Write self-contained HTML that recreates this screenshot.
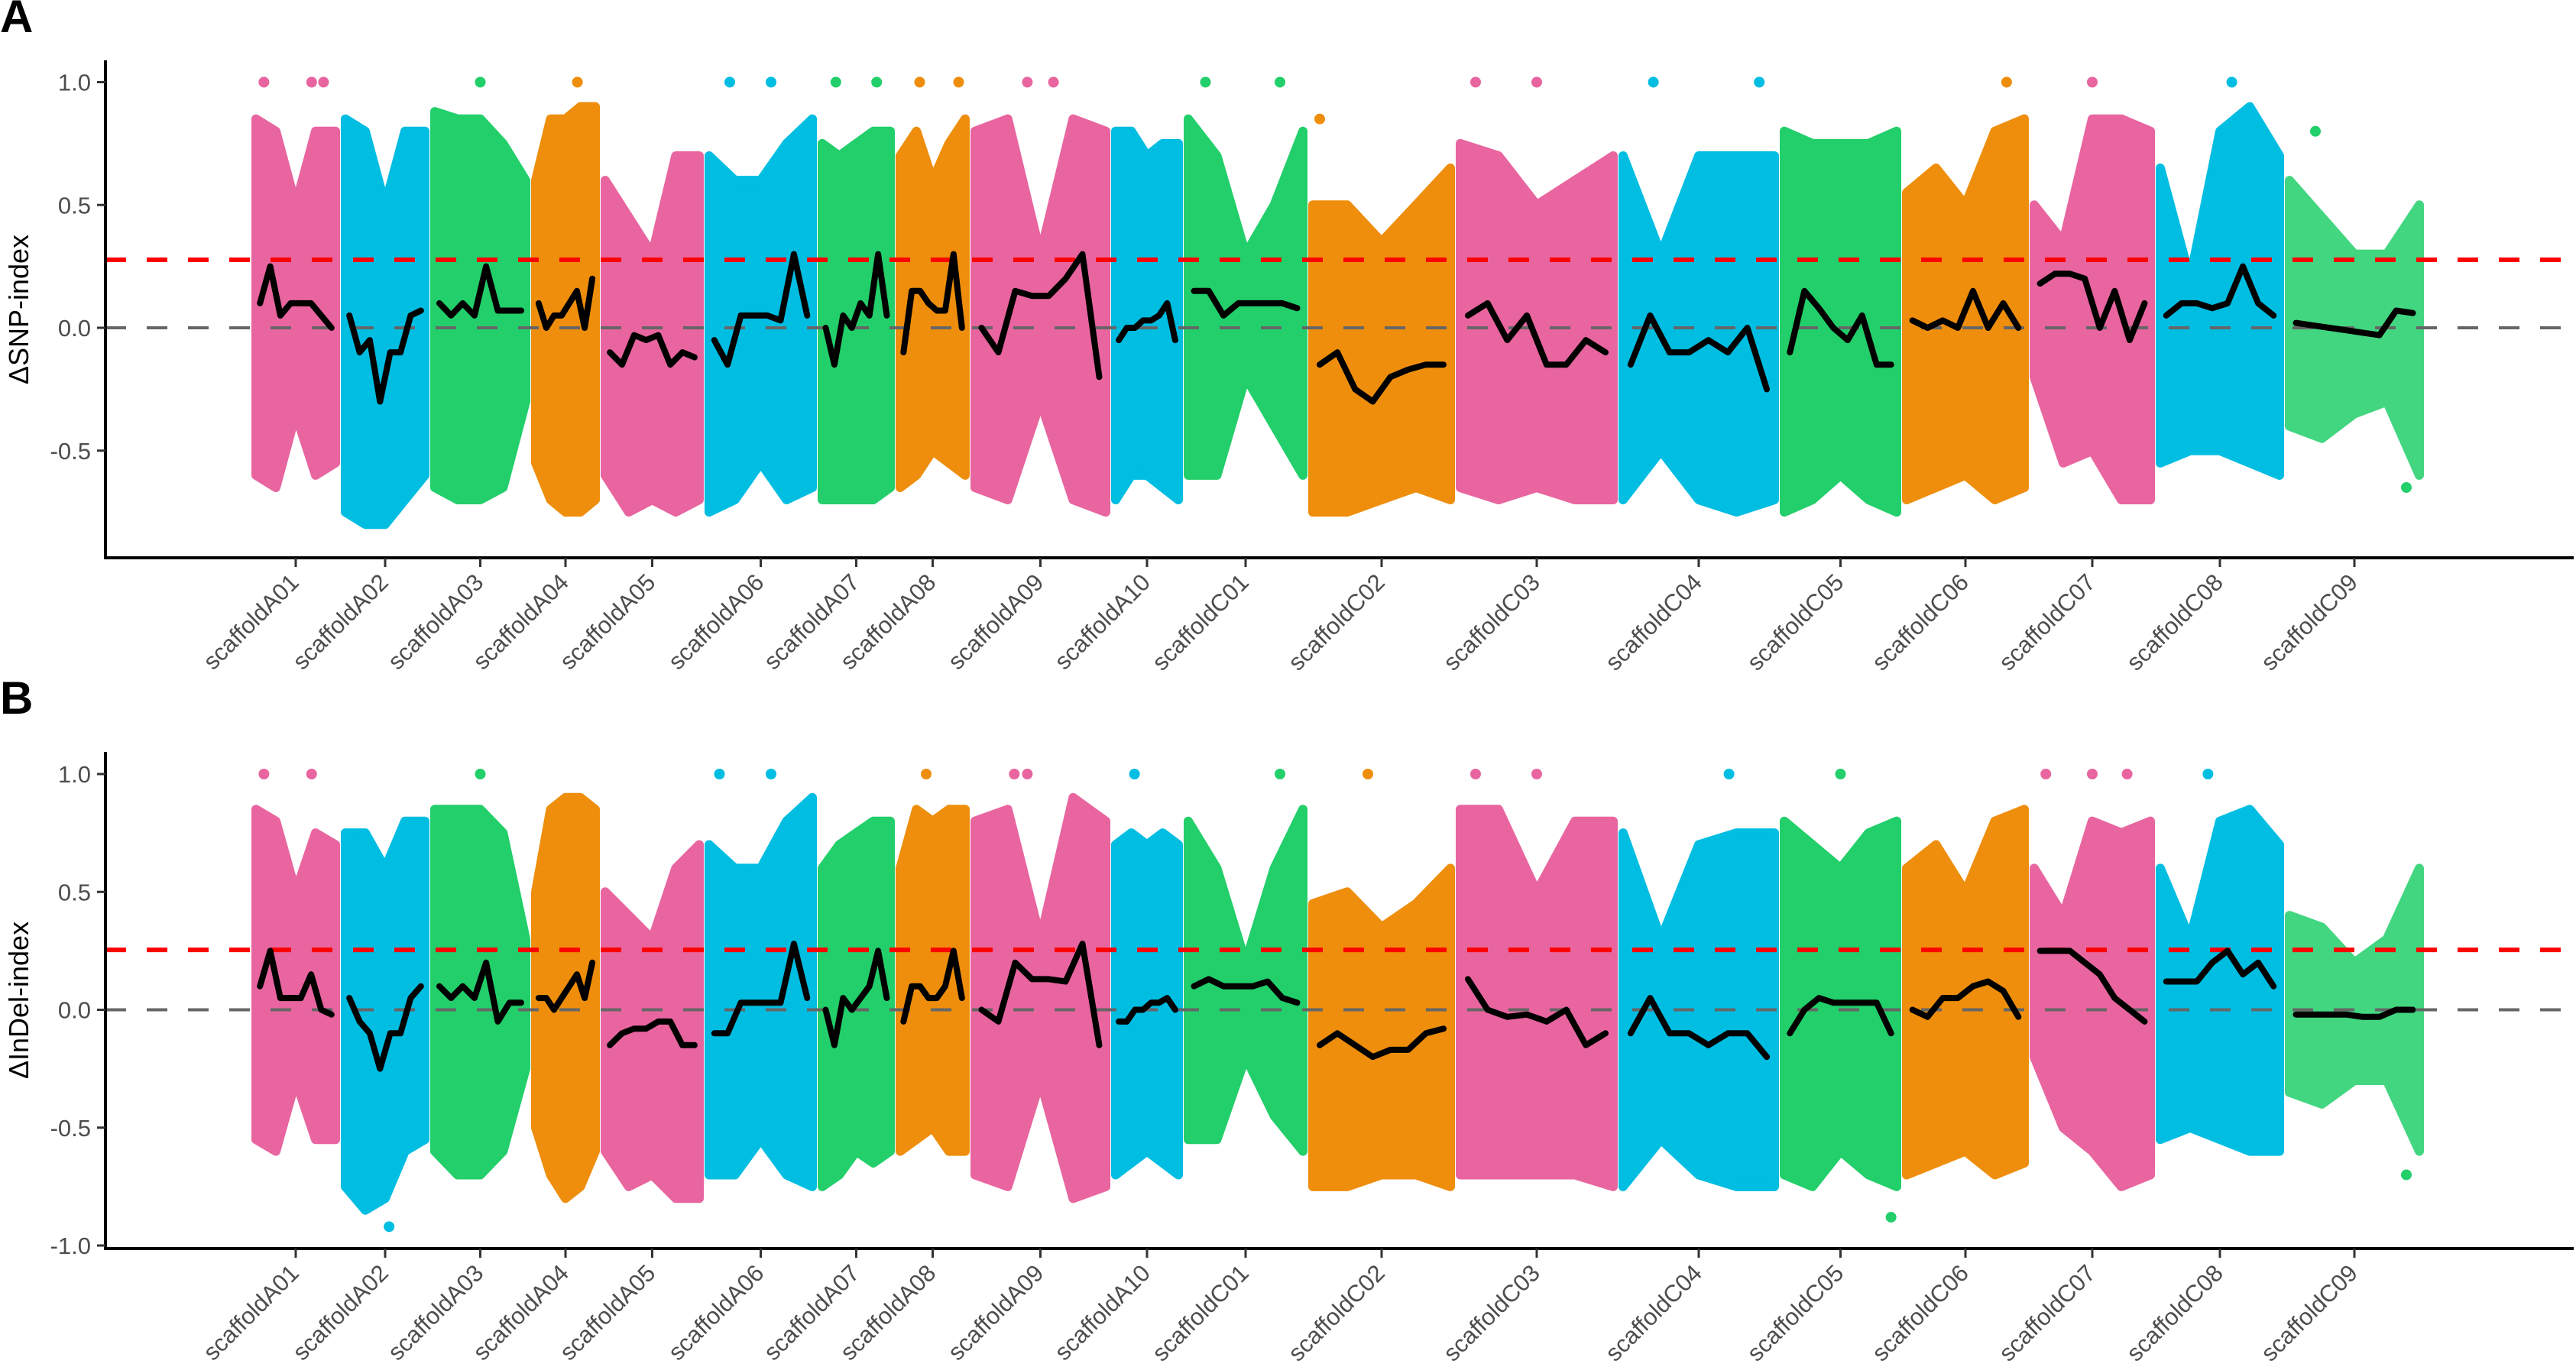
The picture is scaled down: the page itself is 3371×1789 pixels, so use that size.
<!DOCTYPE html>
<html><head><meta charset="utf-8">
<style>
html,body{margin:0;padding:0;background:#fff;}
svg{display:block;font-family:"Liberation Sans",sans-serif;}
</style></head>
<body>
<svg id="chart" width="3371" height="1789" viewBox="0 0 3371 1789" xmlns="http://www.w3.org/2000/svg">
<text x="0" y="42" font-size="60" font-weight="bold" fill="#000">A</text>
<text x="0" y="934" font-size="60" font-weight="bold" fill="#000">B</text>
</svg>
<script>
// ---- data ----
const chromNames = ["scaffoldA01","scaffoldA02","scaffoldA03","scaffoldA04","scaffoldA05","scaffoldA06","scaffoldA07","scaffoldA08","scaffoldA09","scaffoldA10","scaffoldC01","scaffoldC02","scaffoldC03","scaffoldC04","scaffoldC05","scaffoldC06","scaffoldC07","scaffoldC08","scaffoldC09"];
const chromLen = [104,104,119,78,123,135,89,85,171,82,150,180,200,198,147,154,152,156,170];
const chromGap = 13;
const palette = ["#E8659F","#00BDE2","#22CF6A","#EE8E0C"];
const yTicksA = [1.0,0.5,0.0,-0.5];
const yTickLabelsA = ["1.0","0.5","0.0","-0.5"];
const yTicksB = [1.0,0.5,0.0,-0.5,-1.0];
const yTickLabelsB = ["1.0","0.5","0.0","-0.5","-1.0"];
const thresholdA = 0.277;
const thresholdB = 0.254;

const topA = [[0.85,0.8,0.5,0.8,0.8],[0.85,0.8,0.5,0.8,0.8],[0.88,0.85,0.85,0.75,0.6],[0.6,0.85,0.85,0.9,0.9],[0.6,0.45,0.3,0.7,0.7],[0.7,0.6,0.6,0.75,0.85],[0.75,0.7,0.75,0.8,0.8],[0.7,0.8,0.6,0.75,0.85],[0.8,0.85,0.3,0.85,0.8],[0.8,0.8,0.7,0.75,0.75],[0.85,0.7,0.3,0.5,0.8],[0.5,0.5,0.35,0.5,0.65],[0.75,0.7,0.5,0.6,0.7],[0.7,0.3,0.7,0.7,0.7],[0.8,0.75,0.75,0.75,0.8],[0.55,0.65,0.5,0.8,0.85],[0.5,0.35,0.85,0.85,0.8],[0.65,0.2,0.8,0.9,0.7],[0.6,0.45,0.3,0.3,0.5]];
const botA = [[-0.6,-0.65,-0.35,-0.6,-0.55],[-0.75,-0.8,-0.8,-0.7,-0.6],[-0.65,-0.7,-0.7,-0.65,-0.3],[-0.55,-0.7,-0.75,-0.75,-0.7],[-0.6,-0.75,-0.7,-0.75,-0.7],[-0.75,-0.7,-0.55,-0.7,-0.65],[-0.7,-0.7,-0.7,-0.7,-0.65],[-0.65,-0.6,-0.5,-0.55,-0.6],[-0.65,-0.7,-0.3,-0.7,-0.75],[-0.7,-0.6,-0.6,-0.65,-0.7],[-0.6,-0.6,-0.2,-0.4,-0.6],[-0.75,-0.75,-0.7,-0.65,-0.7],[-0.65,-0.7,-0.65,-0.7,-0.7],[-0.7,-0.5,-0.7,-0.75,-0.7],[-0.75,-0.7,-0.6,-0.7,-0.75],[-0.7,-0.65,-0.6,-0.7,-0.65],[-0.2,-0.55,-0.5,-0.7,-0.7],[-0.55,-0.5,-0.5,-0.55,-0.6],[-0.4,-0.45,-0.35,-0.3,-0.6]];
const lineA = [[0.1,0.25,0.05,0.1,0.1,0.1,0.05,0.0],[0.05,-0.1,-0.05,-0.3,-0.1,-0.1,0.05,0.07],[0.1,0.05,0.1,0.05,0.25,0.07,0.07,0.07],[0.1,0.0,0.05,0.05,0.1,0.15,0.0,0.2],[-0.1,-0.15,-0.03,-0.05,-0.03,-0.15,-0.1,-0.12],[-0.05,-0.15,0.05,0.05,0.05,0.03,0.3,0.05],[0.0,-0.15,0.05,0.0,0.1,0.05,0.3,0.05],[-0.1,0.15,0.15,0.1,0.07,0.07,0.3,0.0],[0.0,-0.1,0.15,0.13,0.13,0.2,0.3,-0.2],[-0.05,0.0,0.0,0.03,0.03,0.05,0.1,-0.05],[0.15,0.15,0.05,0.1,0.1,0.1,0.1,0.08],[-0.15,-0.1,-0.25,-0.3,-0.2,-0.17,-0.15,-0.15],[0.05,0.1,-0.05,0.05,-0.15,-0.15,-0.05,-0.1],[-0.15,0.05,-0.1,-0.1,-0.05,-0.1,0.0,-0.25],[-0.1,0.15,0.08,0.0,-0.05,0.05,-0.15,-0.15],[0.03,0.0,0.03,0.0,0.15,0.0,0.1,0.0],[0.18,0.22,0.22,0.2,0.0,0.15,-0.05,0.1],[0.05,0.1,0.1,0.08,0.1,0.25,0.1,0.05],[0.02,0.01,0.0,-0.01,-0.02,-0.03,0.07,0.06]];

const topB = [[0.85,0.8,0.5,0.75,0.7],[0.75,0.75,0.6,0.8,0.8],[0.85,0.85,0.85,0.75,0.3],[0.5,0.85,0.9,0.9,0.85],[0.5,0.4,0.3,0.6,0.7],[0.7,0.6,0.6,0.8,0.9],[0.6,0.7,0.75,0.8,0.8],[0.6,0.85,0.8,0.85,0.85],[0.8,0.85,0.3,0.9,0.8],[0.7,0.75,0.7,0.75,0.7],[0.8,0.6,0.2,0.6,0.85],[0.45,0.5,0.35,0.45,0.6],[0.85,0.85,0.5,0.8,0.8],[0.75,0.3,0.7,0.75,0.75],[0.8,0.7,0.6,0.75,0.8],[0.6,0.7,0.5,0.8,0.85],[0.6,0.4,0.8,0.75,0.8],[0.6,0.3,0.8,0.85,0.7],[0.4,0.35,0.2,0.3,0.6]];
const botB = [[-0.55,-0.6,-0.3,-0.55,-0.55],[-0.75,-0.85,-0.8,-0.6,-0.55],[-0.6,-0.7,-0.7,-0.6,-0.25],[-0.5,-0.7,-0.8,-0.75,-0.6],[-0.6,-0.75,-0.7,-0.8,-0.8],[-0.7,-0.7,-0.55,-0.7,-0.75],[-0.75,-0.7,-0.6,-0.65,-0.6],[-0.6,-0.55,-0.5,-0.6,-0.6],[-0.7,-0.75,-0.3,-0.8,-0.75],[-0.7,-0.65,-0.6,-0.65,-0.7],[-0.55,-0.55,-0.2,-0.45,-0.6],[-0.75,-0.75,-0.7,-0.7,-0.75],[-0.7,-0.7,-0.7,-0.7,-0.75],[-0.75,-0.55,-0.7,-0.75,-0.75],[-0.7,-0.75,-0.6,-0.7,-0.75],[-0.7,-0.65,-0.6,-0.7,-0.65],[-0.2,-0.5,-0.6,-0.75,-0.7],[-0.55,-0.5,-0.55,-0.6,-0.6],[-0.35,-0.4,-0.3,-0.3,-0.6]];
const lineB = [[0.1,0.25,0.05,0.05,0.05,0.15,0.0,-0.02],[0.05,-0.05,-0.1,-0.25,-0.1,-0.1,0.05,0.1],[0.1,0.05,0.1,0.05,0.2,-0.05,0.03,0.03],[0.05,0.05,0.0,0.05,0.1,0.15,0.05,0.2],[-0.15,-0.1,-0.08,-0.08,-0.05,-0.05,-0.15,-0.15],[-0.1,-0.1,0.03,0.03,0.03,0.03,0.28,0.05],[0.0,-0.15,0.05,0.0,0.05,0.1,0.25,0.05],[-0.05,0.1,0.1,0.05,0.05,0.1,0.25,0.05],[0.0,-0.05,0.2,0.13,0.13,0.12,0.28,-0.15],[-0.05,-0.05,0.0,0.0,0.03,0.03,0.05,0.0],[0.1,0.13,0.1,0.1,0.1,0.12,0.05,0.03],[-0.15,-0.1,-0.15,-0.2,-0.17,-0.17,-0.1,-0.08],[0.13,0.0,-0.03,-0.02,-0.05,0.0,-0.15,-0.1],[-0.1,0.05,-0.1,-0.1,-0.15,-0.1,-0.1,-0.2],[-0.1,0.0,0.05,0.03,0.03,0.03,0.03,-0.1],[0.0,-0.03,0.05,0.05,0.1,0.12,0.08,-0.03],[0.25,0.25,0.25,0.2,0.15,0.05,0.0,-0.05],[0.12,0.12,0.12,0.2,0.25,0.15,0.2,0.1],[-0.02,-0.02,-0.02,-0.02,-0.03,-0.03,0.0,0.0]];

// outliers: [chromIndex, fraction, value]
const outlierA = [[0,0.1,1.0],[0,0.7,1.0],[0,0.85,1.0],[2,0.5,1.0],[3,0.7,1.0],[5,0.2,1.0],[5,0.6,1.0],[6,0.2,1.0],[6,0.8,1.0],[7,0.3,1.0],[7,0.9,1.0],[8,0.4,1.0],[8,0.6,1.0],[10,0.15,1.0],[10,0.8,1.0],[11,0.05,0.85],[12,0.1,1.0],[12,0.5,1.0],[13,0.2,1.0],[13,0.9,1.0],[15,0.85,1.0],[16,0.5,1.0],[17,0.6,1.0],[18,0.2,0.8],[18,0.9,-0.65]];
const outlierB = [[0,0.1,1.0],[0,0.7,1.0],[2,0.5,1.0],[5,0.1,1.0],[5,0.6,1.0],[7,0.4,1.0],[8,0.3,1.0],[8,0.4,1.0],[9,0.3,1.0],[10,0.8,1.0],[11,0.4,1.0],[12,0.1,1.0],[12,0.5,1.0],[13,0.7,1.0],[14,0.5,1.0],[16,0.1,1.0],[16,0.5,1.0],[16,0.8,1.0],[17,0.4,1.0],[18,0.9,-0.7],[1,0.55,-0.92],[14,0.95,-0.88]];

// ---- geometry ----
const NS = "http://www.w3.org/2000/svg";
const svg = document.getElementById("chart");
const X0 = 335;
const chromStart = [];
let acc = 0;
for (let i = 0; i < chromLen.length; i++) { chromStart.push(acc); acc += chromLen[i] + chromGap; }
function xScale(pos) { return X0 + pos; }
function chromX(i, f) { return xScale(chromStart[i] + f * chromLen[i]); }

const panels = [
  {key:"snp", zeroY:429, unit:321.5, axisTop:79, axisBottom:730, ticks:yTicksA, tickLabels:yTickLabelsA, thr:thresholdA, top:topA, bot:botA, line:lineA, out:outlierA, title:"ΔSNP-index", titleY:405},
  {key:"indel", zeroY:1321.5, unit:308.5, axisTop:984, axisBottom:1634, ticks:yTicksB, tickLabels:yTickLabelsB, thr:thresholdB, top:topB, bot:botB, line:lineB, out:outlierB, title:"ΔInDel-index", titleY:1309}
];
const AX = 138, AXR = 3368;

function mk(tag, attrs, parent) {
  const e = document.createElementNS(NS, tag);
  for (const k in attrs) e.setAttribute(k, attrs[k]);
  (parent || svg).appendChild(e);
  return e;
}

panels.forEach(p => {
  const yScale = v => p.zeroY - v * p.unit;
  const g = mk("g", {});
  
  

  // point clouds
  for (let i = 0; i < chromNames.length; i++) {
    const col = palette[i % 4];
    const n = p.top[i].length;
    let pts = [];
    for (let k = 0; k < n; k++) pts.push(chromX(i, k/(n-1)).toFixed(1) + "," + yScale(p.top[i][k]).toFixed(1));
    for (let k = n-1; k >= 0; k--) pts.push(chromX(i, k/(n-1)).toFixed(1) + "," + yScale(p.bot[i][k]).toFixed(1));
    const poly = mk("polygon", {points: pts.join(" "), fill: col, stroke: col, "stroke-width": 12, "stroke-linejoin": "round", opacity: i === 18 ? 0.85 : 1}, g);
    
    
  }
  p.out.forEach(o => {
    const c = mk("circle", {cx: chromX(o[0], o[1]), cy: yScale(o[2]), r: 7, fill: palette[o[0] % 4]}, g);
    
    
  });

  // reference lines
  const zl = mk("line", {x1: AX, x2: AXR, y1: yScale(0), y2: yScale(0), stroke: "#666", "stroke-width": 4, "stroke-dasharray": "27 27"}, g);
  
  
  const tl = mk("line", {x1: AX, x2: AXR, y1: yScale(p.thr), y2: yScale(p.thr), stroke: "#FF0000", "stroke-width": 6, "stroke-dasharray": "27 27"}, g);
  
  

  // sliding-window lines
  for (let i = 0; i < chromNames.length; i++) {
    const n = p.line[i].length;
    const pts = p.line[i].map((v, k) => chromX(i, 0.05 + 0.9 * k/(n-1)).toFixed(1) + "," + yScale(v).toFixed(1));
    const pl = mk("polyline", {points: pts.join(" "), fill: "none", stroke: "#000", "stroke-width": 8, "stroke-linejoin": "round", "stroke-linecap": "round"}, g);
    
    
  }

  // axes
  const ya = mk("line", {x1: AX, x2: AX, y1: p.axisTop, y2: p.axisBottom + 2, stroke: "#000", "stroke-width": 4}, g);
  
  
  const xa = mk("line", {x1: AX - 2, x2: AXR, y1: p.axisBottom, y2: p.axisBottom, stroke: "#000", "stroke-width": 4}, g);
  
  

  p.ticks.forEach((t, k) => {
    const y = yScale(t);
    const tk = mk("line", {x1: AX - 11, x2: AX, y1: y, y2: y, stroke: "#333", "stroke-width": 3}, g);
    
    
    const lb = mk("text", {x: AX - 19, y: y + 11, "font-size": 31, fill: "#4d4d4d", "text-anchor": "end"}, g);
    lb.textContent = p.tickLabels[k];
    
    
  });

  for (let i = 0; i < chromNames.length; i++) {
    const x = chromX(i, 0.5);
    const tk = mk("line", {x1: x, x2: x, y1: p.axisBottom, y2: p.axisBottom + 12, stroke: "#333", "stroke-width": 3}, g);
    
    
    const lx = x + 6, ly = p.axisBottom + 34;
    const lb = mk("text", {x: lx, y: ly, "font-size": 31, fill: "#4d4d4d", "text-anchor": "end", transform: "rotate(-45 " + lx + " " + ly + ")"}, g);
    lb.textContent = chromNames[i];
    
    
  }

  const tt = mk("text", {x: 37, y: p.titleY, "font-size": 36, fill: "#000", "text-anchor": "middle", transform: "rotate(-90 37 " + p.titleY + ")"}, g);
  tt.textContent = p.title;
  
  
});
</script>
</body></html>
